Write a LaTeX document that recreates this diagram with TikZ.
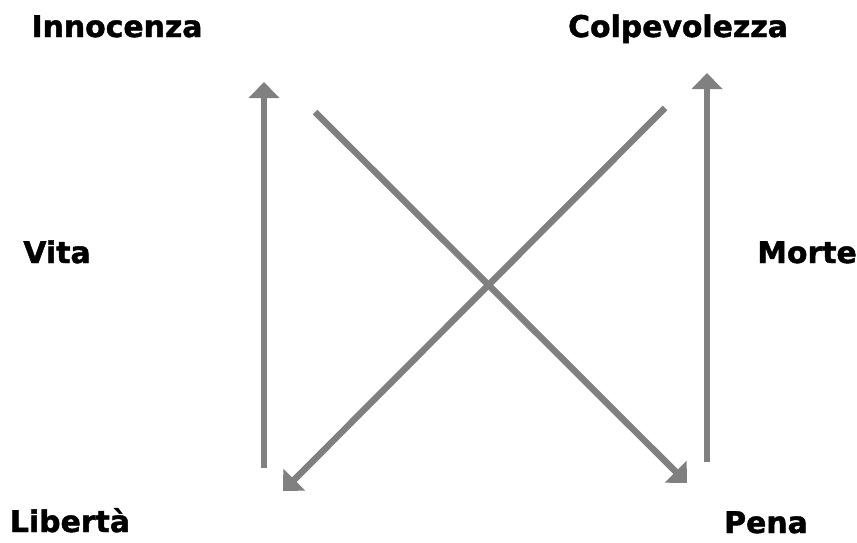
\documentclass[tikz,border=0pt]{standalone}
\usepackage{fontspec}
\setmainfont{DejaVu Sans}[BoldFeatures={FakeBold=1.5}]
\usepackage{tikz}
\usetikzlibrary{positioning, arrows.meta}
\definecolor{LineGray}{RGB}{128, 128, 128}

\begin{document}
\begin{tikzpicture}[x=0.02cm, y=-0.02cm,
    freccia/.style={draw=LineGray, line width=0.13cm,
      -{Triangle[width=0.6cm, length=0.32cm]}},
    etichetta/.style={anchor=base, inner sep=0pt,
      font=\fontsize{17}{20}\selectfont\bfseries}]
    \useasboundingbox (0,0) rectangle (857,542);

    % Labels
    \node[etichetta] (innocenza) at (117,37) {Innocenza};
    \node[etichetta] (colpa) at (678,37) {Colpevolezza};
    \node[etichetta] (vita) at (57,263) {Vita};
    \node[etichetta] (morte) at (807,263) {Morte};
    \node[etichetta] (liberta) at (70,532) {Libertà};
    \node[etichetta] (pena) at (766,533) {Pena};

    % Arrow ends
    \coordinate (sxBasso) at (264,468);
    \coordinate (sxAlto) at (264,82);
    \coordinate (dxBasso) at (707,462);
    \coordinate (dxAlto) at (707,73);
    \coordinate (diagA) at (315,112);
    \coordinate (diagAfine) at (687,483);
    \coordinate (diagB) at (665,108);
    \coordinate (diagBfine) at (283,491);

    % Arrows
    \draw[freccia] (sxBasso) -- (sxAlto);
    \draw[freccia] (dxBasso) -- (dxAlto);
    \draw[freccia] (diagA) -- (diagAfine);
    \draw[freccia] (diagB) -- (diagBfine);
\end{tikzpicture}
\end{document}
